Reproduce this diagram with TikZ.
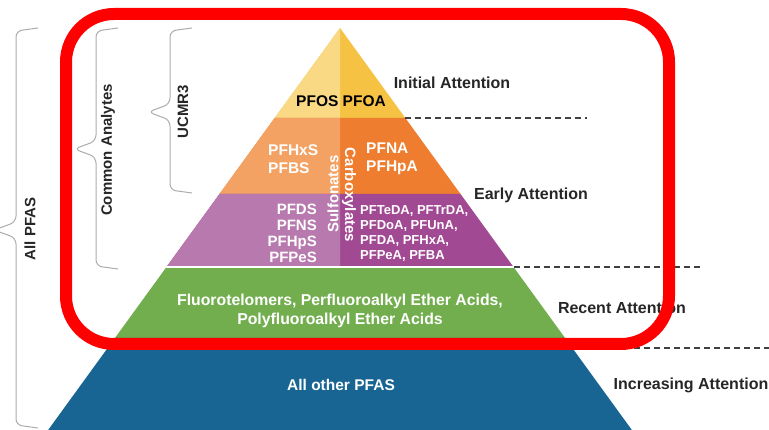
\documentclass[tikz,border=0pt]{standalone}
\usepackage{fontspec}
\setmainfont{Liberation Sans}

\definecolor{yellowL}{HTML}{FAD985}
\definecolor{yellowR}{HTML}{F6C243}
\definecolor{orangeL}{HTML}{F3A263}
\definecolor{orangeR}{HTML}{EE7D2F}
\definecolor{purpleL}{HTML}{B87AAE}
\definecolor{purpleR}{HTML}{A14A93}
\definecolor{greenT}{HTML}{72AE4E}
\definecolor{blueT}{HTML}{186594}
\definecolor{redbox}{HTML}{FF0000}

\begin{document}
\begin{tikzpicture}[x=1pt, y=1pt,
  tiertext/.style={text=white, font=\bfseries\fontsize{15.5}{18}\selectfont, inner sep=0pt},
  sidelabel/.style={text=black!85, font=\bfseries\fontsize{16}{18}\selectfont, inner sep=0pt},
  bracelabel/.style={text=black!85, font=\bfseries\fontsize{15}{18}\selectfont, rotate=90, inner sep=0pt},
  bracket/.style={draw=gray!65, line width=1pt, rounded corners=6pt},
  guide/.style={draw=black!75, line width=1.1pt, dash pattern=on 6pt off 4pt},
  frame/.style={draw=redbox, line width=12pt, rounded corners=48pt}]

  \useasboundingbox (0,0) rectangle (769,430);

  % Tier corners (left / middle / right at each level)
  \foreach \n/\yy in {t0/402, t1/312, t2/236, t3/163, t4/92, t5/0} {
    \pgfmathsetmacro{\hw}{(402-\yy)*0.726}
    \coordinate (\n-L) at (340-\hw,\yy);
    \coordinate (\n-M) at (340,\yy);
    \coordinate (\n-R) at (340+\hw,\yy);
  }

  % Split tiers (sulfonates left, carboxylates right)
  \foreach \up/\lo/\cl/\cr in {t0/t1/yellowL/yellowR, t1/t2/orangeL/orangeR, t2/t3/purpleL/purpleR} {
    \fill[\cr] (\up-L) -- (\lo-L) -- (\lo-R) -- (\up-R) -- cycle;
    \fill[\cl] (\up-L) -- (\lo-L) -- (\lo-M) -- (\up-M) -- cycle;
  }

  % Lower tiers
  \fill[greenT] (t3-L) -- (t4-L) -- (t4-R) -- (t3-R) -- cycle;
  \fill[blueT] (t4-L) -- (t5-L) -- (t5-R) -- (t4-R) -- cycle;
  \draw[white, line width=2pt] (t3-L) -- (t3-R);

  % Tier labels
  \node[tiertext, text=black] (pfos) at (341,329) {PFOS PFOA};
  \node[tiertext, anchor=west, align=left] (orgL) at (268,271) {PFHxS\\PFBS};
  \node[tiertext, anchor=west, align=left] (orgR) at (366,271) {PFNA\\PFHpA};
  \node[tiertext, anchor=east, align=right, font=\bfseries\fontsize{15}{16}\selectfont] (purL) at (317,197) {PFDS\\PFNS\\PFHpS\\PFPeS};
  \node[tiertext, anchor=west, align=left, font=\bfseries\fontsize{13}{15}\selectfont] (purR) at (360,196) {PFTeDA, PFTrDA,\\PFDoA, PFUnA,\\PFDA, PFHxA,\\PFPeA, PFBA};
  \node[tiertext, rotate=90, font=\bfseries\fontsize{15}{18}\selectfont] (sulf) at (333,236) {Sulfonates};
  \node[tiertext, rotate=-90, font=\bfseries\fontsize{15}{18}\selectfont] (carb) at (349,235) {Carboxylates};
  \node[tiertext, align=center, font=\bfseries\fontsize{15.8}{19}\selectfont] (fluoro) at (340,119) {Fluorotelomers, Perfluoroalkyl Ether Acids,\\Polyfluoroalkyl Ether Acids};
  \node[tiertext] (other) at (341,45) {All other PFAS};

  % Attention levels
  \node[sidelabel] (initial) at (452,347) {Initial Attention};
  \node[sidelabel] (early) at (531,235) {Early Attention};
  \node[sidelabel] (recent) at (622,122) {Recent Attention};
  \node[sidelabel] (increasing) at (691,45) {Increasing Attention};

  % Dashed level guides
  \coordinate (g1) at (587,312);
  \coordinate (g2) at (700,163);
  \coordinate (g3s) at (574,82);
  \coordinate (g3) at (769,82);
  \draw[guide] (t1-R) -- (g1);
  \draw[guide] (t3-R) -- (g2);
  \draw[guide] (g3s) -- (g3);

  % Braces on the left
  \foreach \i/\bx/\btop/\bbot/\tipy in {1/38/402/2/200, 2/118/402/161/281, 3/192/402/237/318} {
    \coordinate (br\i-top) at (\bx,\btop);
    \coordinate (br\i-bot) at (\bx,\bbot);
    \coordinate (br\i-tip) at (\bx-44,\tipy);
    \draw[bracket] (br\i-top) -- (\bx-22,\btop-3) -- (\bx-22,\tipy+8) -- (br\i-tip)
      -- (\bx-22,\tipy-8) -- (\bx-22,\bbot+3) -- (br\i-bot);
  }
  \node[bracelabel] (allpfas) at (30,201) {All PFAS};
  \node[bracelabel] (common) at (108,280) {Common Analytes};
  \node[bracelabel] (ucmr) at (183,318) {UCMR3};

  % Highlight frame
  \draw[frame] (66,86) rectangle (669,416);

\end{tikzpicture}
\end{document}
